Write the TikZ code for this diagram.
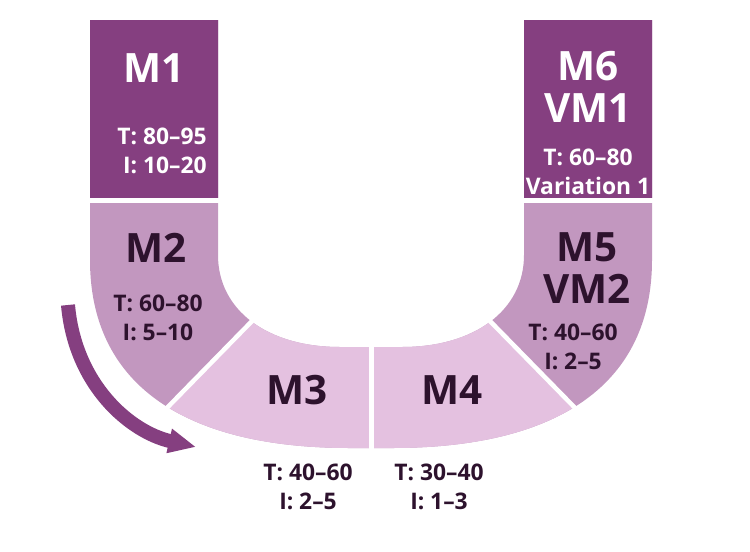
\documentclass[tikz,border=0pt]{standalone}
\usepackage{fontspec}
\setmainfont{Open Sans}
\usetikzlibrary{arrows.meta}
\definecolor{cDark}{RGB}{133,63,128}
\definecolor{cMid}{RGB}{194,151,191}
\definecolor{cLight}{RGB}{228,193,224}
\definecolor{cInk}{RGB}{45,18,45}
\tikzset{
	segtitle/.style={font=\fontsize{23}{24}\selectfont\bfseries, align=center, inner sep=0pt, text=cInk},
	seginfo/.style ={font=\fontsize{13}{16.5}\selectfont\bfseries, align=center, inner sep=0pt, text=cInk},
	onDark/.style  ={text=white},
	gap/.style     ={draw=white, line width=0.09cm},
	flowarrow/.style={-{Triangle[length=0.55cm, width=0.46cm]}, line width=0.28cm, draw=cDark},
}

\begin{document}
\begin{tikzpicture}[x=0.02cm, y=-0.02cm]
	\useasboundingbox (0,0) rectangle (750,551);
	% U band, coloured by region
	\begin{scope}
		\clip (90,20) -- (90,260) .. controls (90,382) and (181,448) .. (350,448) -- (392,448)
			.. controls (561,448) and (652,382) .. (652,260) -- (652,20) -- (524,20) -- (524,255)
			.. controls (524,310) and (475,347) .. (402,347) -- (340,347)
			.. controls (267,347) and (218,310) .. (218,255) -- (218,20) -- cycle;
		\fill[cMid] (80,10) rectangle (660,460);
		\fill[cLight] (331,240) -- (85,492) -- (657,492) -- (411,240) -- cycle;
		\fill[cDark] (80,10) rectangle (660,202);
	\end{scope}
	\draw[gap] (85,200.5) -- (223,200.5);
	\draw[gap] (519,200.5) -- (657,200.5);
	\draw[gap] (255,318) -- (161,414);
	\draw[gap] (487,318) -- (581,414);
	\draw[gap] (371.5,340) -- (371.5,455);

	% labels
	\node[segtitle, onDark] (m1title) at (154,68) {M1};
	\node[seginfo, onDark, align=right] (m1info) at (162,151) {T: 80--95\\I: 10--20};
	\node[segtitle] (m2title) at (156,248) {M2};
	\node[seginfo] (m2info) at (158,318) {T: 60--80\\I: 5--10};
	\node[segtitle] (m3title) at (297,390) {M3};
	\node[seginfo] (m3info) at (308,487) {T: 40--60\\I: 2--5};
	\node[segtitle] (m4title) at (452,390) {M4};
	\node[seginfo] (m4info) at (439,487) {T: 30--40\\I: 1--3};
	\node[segtitle] (m5title) at (587,268) {M5\\VM2};
	\node[seginfo] (m5info) at (573,347) {T: 40--60\\I: 2--5};
	\node[segtitle, onDark] (m6title) at (588,87) {M6\\VM1};
	\node[seginfo, onDark] (m6info) at (588,172) {T: 60--80\\Variation 1};

	% direction of flow
	\coordinate (flowstart) at (68,305);
	\coordinate (flowend) at (196,447);
	\draw[flowarrow] (flowstart) .. controls (75,385) and (130,432) .. (flowend);
\end{tikzpicture}
\end{document}
